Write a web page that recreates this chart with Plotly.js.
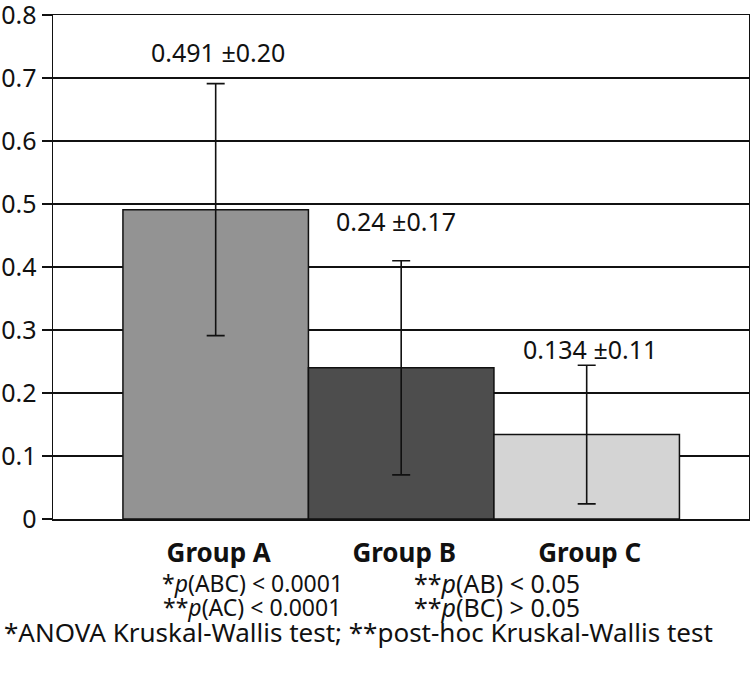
<!DOCTYPE html>
<html>
<head>
<meta charset="utf-8">
<script src="https://cdn.plot.ly/plotly-3.0.1.min.js"></script>
<style>html,body{margin:0;padding:0;background:#fff;}#chart{width:750px;height:676px;}</style>
</head>
<body>
<div id="chart"></div>
<script>
// ---- data ----
const categories = ["Group A", "Group B", "Group C"];
const means = [0.491, 0.24, 0.134];
const sds = [0.20, 0.17, 0.11];
const valueLabels = ["0.491 ±0.20", "0.24 ±0.17", "0.134 ±0.11"];
const barColors = ["#939393", "#4d4d4d", "#d4d4d4"];
const yTickVals = [0, 0.1, 0.2, 0.3, 0.4, 0.5, 0.6, 0.7, 0.8];
const yTickText = ["0", "0.1", "0.2", "0.3", "0.4", "0.5", "0.6", "0.7", "0.8"];
const footLines = [
  ["*<i>p</i>(ABC) < 0.0001", "**<i>p</i>(AB) < 0.05"],
  ["**<i>p</i>(AC) < 0.0001", "**<i>p</i>(BC) > 0.05"]
];
const footNote = "*ANOVA Kruskal-Wallis test; **post-hoc Kruskal-Wallis test";

// ---- layout helpers (pixel positions) ----
const W = 750, H = 676, L = 53, R = 1, T = 15, B = 157;
const pw = W - L - R, ph = H - T - B;
const px2x = p => (p - L) / pw;
const py2y = p => (H - B - p) / ph;
const FONT = "Noto Sans, Open Sans, sans-serif";

const labelShift = [32, 40, 16];
const labelXShift = [2, -5, 3];

const annotations = [];
categories.forEach((c, i) => {
  annotations.push({
    x: c, y: means[i] + sds[i], xref: "x", yref: "y",
    text: valueLabels[i], showarrow: false,
    yanchor: "middle", yshift: labelShift[i], xshift: labelXShift[i],
    font: {family: FONT, size: 25, color: "#111"}
  });
});
const colX = [252, 497];
const rowY = [583, 607];
const colSize = [23, 25];
footLines.forEach((row, r) => {
  row.forEach((t, c) => {
    annotations.push({
      x: px2x(colX[c]), y: py2y(rowY[r]), xref: "paper", yref: "paper",
      text: t, showarrow: false, xanchor: "center", yanchor: "middle",
      font: {family: FONT, size: colSize[c], color: "#111"}
    });
  });
});
annotations.push({
  x: px2x(358), y: py2y(632), xref: "paper", yref: "paper",
  text: footNote, showarrow: false, xanchor: "center", yanchor: "middle",
  font: {family: FONT, size: 26, color: "#111"}
});

const trace = {
  type: "bar",
  x: categories,
  y: means,
  marker: {color: barColors, line: {color: "#111", width: 1.5}},
  error_y: {type: "data", array: sds, visible: true, color: "#111", thickness: 1.6, width: 9},
  hoverinfo: "none"
};

const layout = {
  width: W, height: H,
  margin: {l: L, r: R, t: T, b: B, pad: 0},
  paper_bgcolor: "#fff", plot_bgcolor: "#fff",
  showlegend: false,
  bargap: 0,
  font: {family: FONT, color: "#111"},
  xaxis: {
    type: "category",
    range: [-0.877, 2.875],
    showline: true, linecolor: "#111", linewidth: 1.5, mirror: true,
    ticks: "", showgrid: false, zeroline: false,
    tickfont: {family: FONT, size: 26, color: "#111", weight: "bold"},
    ticklabelstandoff: 10,
    ticklabelshift: 3
  },
  yaxis: {
    range: [0, 0.8],
    tickmode: "array", tickvals: yTickVals, ticktext: yTickText,
    showline: true, linecolor: "#111", linewidth: 1.5, mirror: true,
    ticks: "outside", ticklen: 10, tickwidth: 1.5, tickcolor: "#111",
    showgrid: true, gridcolor: "#111", gridwidth: 1.5, zeroline: false,
    ticklabeloverflow: "allow",
    tickfont: {family: FONT, size: 25, color: "#111"}
  },
  annotations: annotations
};

Plotly.newPlot("chart", [trace], layout, {displayModeBar: false, staticPlot: true});
</script>
</body>
</html>
